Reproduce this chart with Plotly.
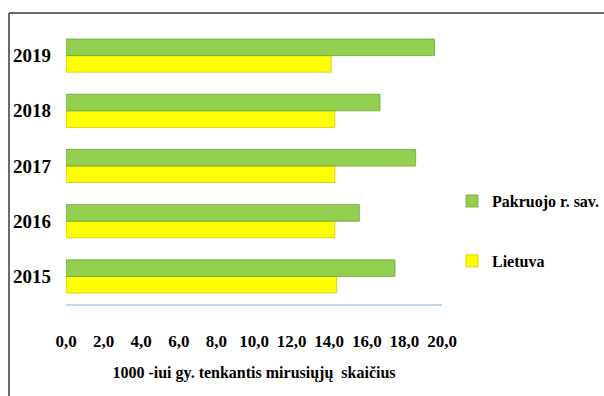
import plotly.graph_objects as go

years = ["2015", "2016", "2017", "2018", "2019"]
pakruojo = [17.5, 15.6, 18.6, 16.7, 19.6]
lietuva = [14.4, 14.3, 14.3, 14.3, 14.1]
x_ticks = [0, 2, 4, 6, 8, 10, 12, 14, 16, 18, 20]

FONT = "Liberation Serif, Times New Roman, serif"

W, H = 604, 396
ML, MT, MB = 66, 28, 92
PW = W - ML            # paper width (right margin 0)
PLOT_W = 376           # plot area width
PH = H - MT - MB       # plot height

def px_x(p):
    return (p - ML) / PW

def px_y(p):
    return (H - MB - p) / PH

fig = go.Figure()
fig.add_trace(go.Bar(
    y=years, x=lietuva, orientation="h", name="Lietuva",
    marker=dict(color="#FFFF00", line=dict(color="#C8C800", width=0.8)),
    legendgroup="b", legendrank=2,
))
fig.add_trace(go.Bar(
    y=years, x=pakruojo, orientation="h", name="Pakruojo r. sav.",
    marker=dict(color="#92D050", line=dict(color="#6E9E3A", width=0.8)),
    legendgroup="a", legendrank=1,
))

fig.update_layout(
    template="none",
    width=W, height=H,
    margin=dict(l=ML, r=0, t=MT, b=MB, pad=0),
    paper_bgcolor="white", plot_bgcolor="white",
    barmode="group", bargap=0.4, bargroupgap=0,
    separators=", ",
    font=dict(family=FONT, color="black", weight="bold"),
    showlegend=True,
    legend=dict(
        x=1.0, y=0.264, xanchor="right", yanchor="middle",
        traceorder="grouped", tracegroupgap=36,
        font=dict(family=FONT, size=16, weight="bold"),
        itemwidth=30, bgcolor="rgba(0,0,0,0)",
    ),
    xaxis=dict(
        domain=[0, PLOT_W / PW], automargin=False,
        range=[0, 20], tickvals=x_ticks, tickformat=".1f",
        showgrid=False, zeroline=False,
        showline=True, linecolor="#BDD7EE", linewidth=2,
        ticks="", ticklabelstandoff=21,
        tickfont=dict(family=FONT, size=17, weight="bold"),
        title=dict(text="1000 -iui gy. tenkantis mirusiųjų  skaičius",
                   font=dict(family=FONT, size=16, weight="bold"), standoff=16),
    ),
    yaxis=dict(
        type="category", categoryorder="array", categoryarray=years,
        automargin=False,
        showgrid=False, zeroline=False, showline=False, ticks="",
        ticklabelstandoff=14,
        tickfont=dict(family=FONT, size=19, weight="bold"),
    ),
    shapes=[
        dict(type="line", xref="paper", yref="paper",
             x0=px_x(9), x1=px_x(620), y0=px_y(13), y1=px_y(13),
             line=dict(color="#3A3A3A", width=1.5)),
        dict(type="line", xref="paper", yref="paper",
             x0=px_x(9), x1=px_x(9), y0=px_y(13), y1=px_y(420),
             line=dict(color="#3A3A3A", width=1.5)),
    ],
)

fig.write_html(
    "out.html",
    config={"displayModeBar": False},
    post_script="document.body.style.margin='0';document.body.style.overflow='hidden';",
)
